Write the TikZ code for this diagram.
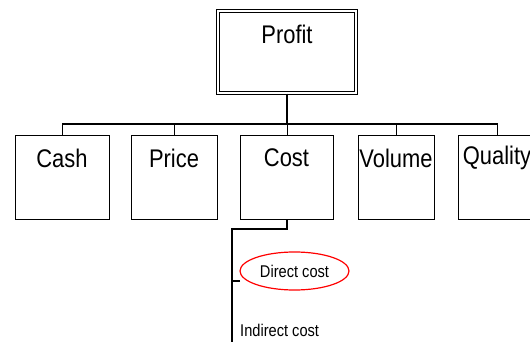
\documentclass[tikz,border=0pt]{standalone}
\usepackage{fontspec}
\setmainfont{Liberation Sans}
\usetikzlibrary{shapes.geometric}
\newcommand{\bigtxt}[1]{\scalebox{0.86}[1]{\fontsize{25.5}{30}\selectfont #1}}
\newcommand{\smtxt}[1]{\scalebox{0.86}[1]{\fontsize{17}{20}\selectfont #1}}
\tikzset{
  box/.style={draw, line width=1.2pt, rectangle, inner sep=0pt, anchor=north west},
  conn/.style={draw, line width=1.2pt},
  thick conn/.style={draw, line width=1.8pt},
  lbl/.style={inner sep=0pt, anchor=center},
}
\begin{document}
\begin{tikzpicture}[x=1pt,y=-1pt]
\useasboundingbox (0,0) rectangle (530,342);
\begin{scope}
\clip (0,0) rectangle (530,342);
% Profit box (double border)
\node[draw, line width=1.1pt, double, double distance=2pt, rectangle, inner sep=0pt,
      minimum width=138pt, minimum height=82pt] (profit) at (287,52) {};
\node[lbl] (tprofit) at (287,34) {\bigtxt{Profit}};
% children
\node[box, minimum width=94pt, minimum height=84pt] (cash) at (15,135) {};
\node[box, minimum width=86pt, minimum height=84pt] (price) at (131,135) {};
\node[box, minimum width=93pt, minimum height=84pt] (cost) at (240,135) {};
\node[box, minimum width=76pt, minimum height=84pt] (volume) at (358,135) {};
\node[box, minimum width=78pt, minimum height=84pt] (quality) at (458,135) {};
\node[lbl] (tcash) at (62,158) {\bigtxt{Cash}};
\node[lbl] (tprice) at (174,158) {\bigtxt{Price}};
\node[lbl] (tcost) at (286.5,158) {\bigtxt{Cost}};
\node[lbl] (tvolume) at (396,158) {\bigtxt{Volume}};
\node[lbl] (tquality) at (497,158) {\bigtxt{Quality}};
% bus
\coordinate (bus) at (0,124);
\draw[thick conn] (profit.south) -- (profit.south |- bus);
\draw[conn] (cash.north) -- (cash.north |- bus) -- (quality.north |- bus) -- (quality.north);
\draw[conn] (price.north) -- (price.north |- bus);
\draw[conn] (cost.north) -- (cost.north |- bus);
\draw[conn] (volume.north) -- (volume.north |- bus);
% cost subtree
\coordinate (stem) at (232,229);
\coordinate (stemend) at (232,345);
\draw[thick conn] (cost.south) -- (cost.south |- stem) -- (stem) -- (stemend);
\node[draw=red, line width=1.2pt, ellipse, inner sep=0pt, minimum width=109pt,
      minimum height=38pt] (direct) at (294.5,271) {\smtxt{Direct cost}};
\coordinate (tick) at (240,281);
\draw[thick conn] (tick) -- (tick -| stem);
\node[inner sep=0pt, anchor=west] (indirect) at (240,330) {\smtxt{Indirect cost}};
\end{scope}
\end{tikzpicture}
\end{document}
